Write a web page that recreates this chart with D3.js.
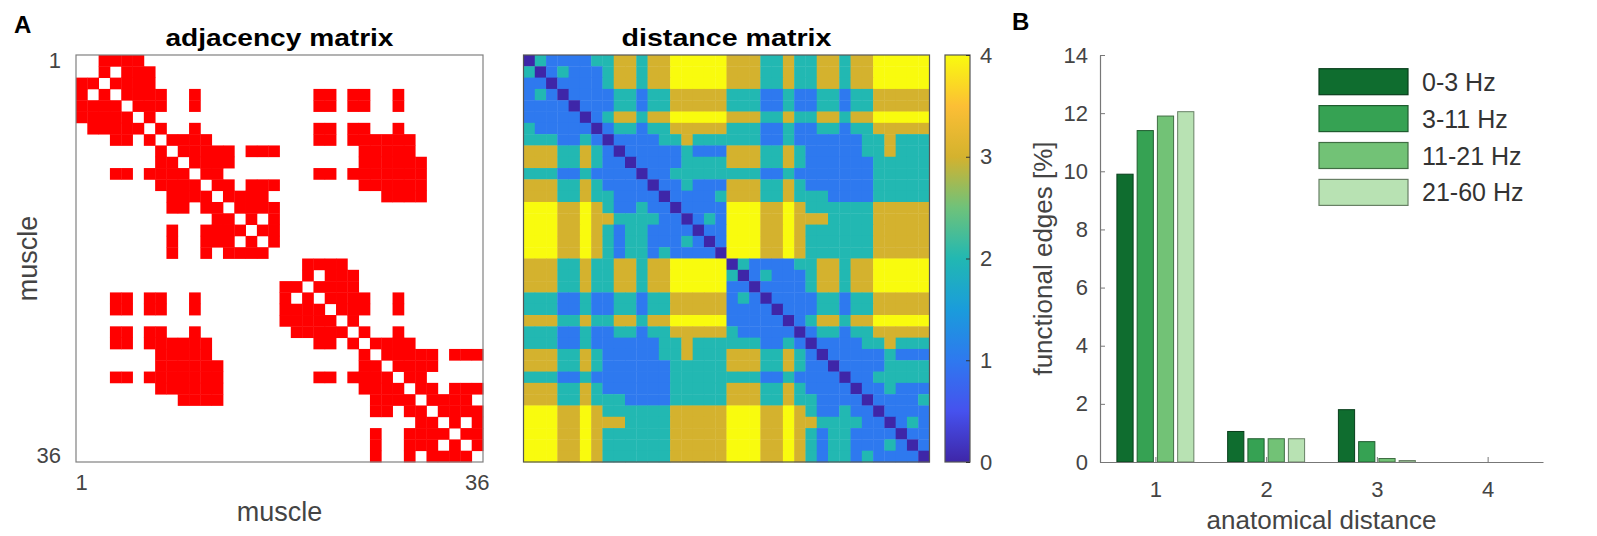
<!DOCTYPE html>
<html>
<head>
<meta charset="utf-8">
<script src="https://cdn.jsdelivr.net/npm/d3@7"></script>
<style>
  body { margin: 0; background: #fff; }
  text { font-family: "Liberation Sans", Arial, Helvetica, sans-serif; }
</style>
</head>
<body>
<svg class="chart" width="1597" height="536"></svg>
<script>
// anatomical adjacency, 36 muscles (1 = connected)
var adjacency = [
  "001111000000000000" + "000000000000000000",
  "001011100000000000" + "000000000000000000",
  "110111100000000000" + "000000000000000000",
  "101011110010000000" + "000110110010000000",
  "111101110010000000" + "000110110010000000",
  "111110100000000000" + "000000000000000000",
  "011111010010000000" + "000110110010000000",
  "000110101111000000" + "000110111111000000",
  "000000010111110111" + "000000011111000000",
  "000000011011110000" + "000000011111100000",
  "000110111101100000" + "000110111111100000",
  "000000011110110111" + "000000011111100000",
  "000000001111011110" + "000000000111100000",
  "000000001101101111" + "000000000000000000",
  "000000000000110101" + "000000000000000000",
  "000000001001111011" + "000000000000000000",
  "000000001001110101" + "000000000000000000",
  "000000001001011110" + "000000000000000000",
  "000000000000000000" + "001111000000000000",
  "000000000000000000" + "001011100000000000",
  "000000000000000000" + "110111100000000000",
  "000110110010000000" + "101011110010000000",
  "000110110010000000" + "111101110010000000",
  "000000000000000000" + "111110100000000000",
  "000110110010000000" + "011111010010000000",
  "000110111111000000" + "000110101111000000",
  "000000011111000000" + "000000010111110111",
  "000000011111100000" + "000000011011110000",
  "000110111111100000" + "000110111101100000",
  "000000011111100000" + "000000011110110111",
  "000000000111100000" + "000000001111011110",
  "000000000000000000" + "000000001101101111",
  "000000000000000000" + "000000000000110101",
  "000000000000000000" + "000000001001111011",
  "000000000000000000" + "000000001001110101",
  "000000000000000000" + "000000001001011110"
];

// anatomical distance between muscles (0-4)
var distance = [
  "021111223323344444333223223323344444",
  "201211123323344444333223223323344444",
  "110111123323344444333223223323344444",
  "121011112212233333222112112212233333",
  "111101112212233333222112112212233333",
  "111110123323344444333223223323344444",
  "211111012212233333222112112212233333",
  "222112101111223222222112111111223222",
  "333223210111112111333223211111223222",
  "333223211011112222333223211111122222",
  "222112111101122222222112111111122222",
  "333223211110112111333223211111122222",
  "333223221111011112333223222111122222",
  "444334321121101111444334322222233333",
  "444334332222110121444334333222233333",
  "444334321221111011444334322222233333",
  "444334321221112101444334322222233333",
  "444334321221211110444334322222233333",
  "333223223323344444021111223323344444",
  "333223223323344444201211123323344444",
  "333223223323344444110111123323344444",
  "222112112212233333121011112212233333",
  "222112112212233333111101112212233333",
  "333223223323344444111110123323344444",
  "222112112212233333211111012212233333",
  "222112111111223222222112101111223222",
  "333223211111223222333223210111112111",
  "333223211111122222333223211011112222",
  "222112111111122222222112111101122222",
  "333223211111122222333223211110112111",
  "333223222111122222333223221111011112",
  "444334322222233333444334321121101111",
  "444334333222233333444334332222110121",
  "444334322222233333444334321221111011",
  "444334322222233333444334321221112101",
  "444334322222233333444334321221211110"
];

var muscleTicks = [1, 36];
var colorTicks = [0, 1, 2, 3, 4];

// panel B
var anatDistance = [1, 2, 3, 4];
var bandNames = ["0-3 Hz", "3-11 Hz", "11-21 Hz", "21-60 Hz"];
var hz0_3   = [9.9, 1.05, 1.8, 0];
var hz3_11  = [11.4, 0.8, 0.7, 0];
var hz11_21 = [11.9, 0.8, 0.12, 0];
var hz21_60 = [12.05, 0.8, 0.05, 0];
var edgeTicks = [0, 2, 4, 6, 8, 10, 12, 14];

var bandColors = ["#0f6d2f", "#36a253", "#72c276", "#b8e2b3"];
var parula = ["#3e26a8", "#4652ee", "#2e79ef", "#1a9cdb", "#22b8b2", "#6fc27a", "#d4b22e", "#fcbf35", "#f9fb0e"];

function show() {
    'use strict';
    var svg = d3.select(".chart");
    var n = adjacency.length;
    var idx = d3.range(n);
    var inkCol = "#444";
    var top = 55, size = 407;

    // ---------- adjacency ----------
    var ax = d3.scaleBand().domain(idx).range([76, 76 + size]);
    var ay = d3.scaleBand().domain(idx).range([top, top + size]);
    var adjCells = [];
    idx.forEach(function(i) { idx.forEach(function(j) { if (adjacency[i][j] === "1") adjCells.push([i, j]); }); });

    var gA = svg.append("g");
    gA.selectAll("rect.cell").data(adjCells).enter().append("rect")
        .attr("x", function(d) { return ax(d[1]); })
        .attr("y", function(d) { return ay(d[0]); })
        .attr("width", ax.bandwidth() + 0.4)
        .attr("height", ay.bandwidth() + 0.4)
        .attr("fill", "#ff0000");
    gA.append("rect").attr("x", 76).attr("y", top).attr("width", size).attr("height", size)
        .attr("fill", "none").attr("stroke", "#808080").attr("stroke-width", 1.2);

    var yAx = gA.append("g").attr("transform", "translate(76,0)")
        .call(d3.axisLeft(ay).tickValues(muscleTicks.map(function(t) { return t - 1; }))
            .tickFormat(function(d) { return d + 1; }).tickSize(0).tickPadding(15));
    var xAx = gA.append("g").attr("transform", "translate(0," + (top + size) + ")")
        .call(d3.axisBottom(ax).tickValues(muscleTicks.map(function(t) { return t - 1; }))
            .tickFormat(function(d) { return d + 1; }).tickSize(0).tickPadding(12));
    [yAx, xAx].forEach(function(g) {
        g.select(".domain").remove();
        g.selectAll("text").attr("font-size", 22).attr("fill", inkCol);
    });

    gA.append("text").attr("x", 76 + size / 2 - 114).attr("y", 46)
        .attr("font-size", 24).attr("font-weight", "bold")
        .attr("textLength", 228).attr("lengthAdjust", "spacingAndGlyphs").text("adjacency matrix");
    gA.append("text").attr("x", 76 + size / 2).attr("y", 521).attr("text-anchor", "middle")
        .attr("font-size", 27).attr("fill", inkCol).text("muscle");
    gA.append("text").attr("transform", "translate(37," + (top + size / 2) + ") rotate(-90)")
        .attr("text-anchor", "middle").attr("font-size", 27).attr("fill", inkCol).text("muscle");

    // ---------- distance ----------
    var color = d3.scaleLinear().domain(d3.range(0, 4.01, 0.5)).range(parula);
    var dx = d3.scaleBand().domain(idx).range([523.5, 523.5 + 406]);
    var dy = d3.scaleBand().domain(idx).range([top, top + size]);
    var distCells = [];
    idx.forEach(function(i) { idx.forEach(function(j) { distCells.push([i, j, +distance[i][j]]); }); });

    var gD = svg.append("g");
    gD.selectAll("rect.cell").data(distCells).enter().append("rect")
        .attr("x", function(d) { return dx(d[1]); })
        .attr("y", function(d) { return dy(d[0]); })
        .attr("width", dx.bandwidth() + 0.4)
        .attr("height", dy.bandwidth() + 0.4)
        .attr("fill", function(d) { return color(d[2]); });
    gD.append("rect").attr("x", 523.5).attr("y", top).attr("width", 406).attr("height", size)
        .attr("fill", "none").attr("stroke", "#555").attr("stroke-width", 1.2);
    gD.append("text").attr("x", 523.5 + 203 - 105).attr("y", 46)
        .attr("font-size", 24).attr("font-weight", "bold")
        .attr("textLength", 210).attr("lengthAdjust", "spacingAndGlyphs").text("distance matrix");

    // colorbar
    var cbY = d3.scaleLinear().domain([0, 4]).range([top + size, top]);
    var grad = svg.append("defs").append("linearGradient").attr("id", "cbar")
        .attr("x1", 0).attr("y1", 1).attr("x2", 0).attr("y2", 0);
    grad.selectAll("stop").data(d3.range(0, 4.001, 0.1)).enter().append("stop")
        .attr("offset", function(d) { return d / 4; })
        .attr("stop-color", function(d) { return color(d); });
    svg.append("rect").attr("x", 945).attr("y", top).attr("width", 25).attr("height", size)
        .attr("fill", "url(#cbar)").attr("stroke", "#555").attr("stroke-width", 1.2);
    var cAx = svg.append("g").attr("transform", "translate(970,0)")
        .call(d3.axisRight(cbY).tickValues(colorTicks).tickFormat(d3.format("d"))
            .tickSizeInner(-4).tickSizeOuter(0).tickPadding(10));
    cAx.select(".domain").remove();
    cAx.selectAll("line").attr("stroke", "#333");
    cAx.selectAll("text").attr("font-size", 22).attr("fill", inkCol);

    // ---------- bars ----------
    var series = [hz0_3, hz3_11, hz11_21, hz21_60];
    var bx = d3.scaleLinear().domain([0.5, 4.5]).range([1100, 1543]);
    var by = d3.scaleLinear().domain([0, 14]).range([top + size, top]);
    var bx1 = d3.scaleBand().domain(d3.range(series.length)).range([-40.5, 40.5])
        .paddingInner(0.2).paddingOuter(0.1);

    var gB = svg.append("g");
    series.forEach(function(vals, s) {
        gB.selectAll("rect.s" + s).data(vals).enter().append("rect")
            .attr("x", function(d, i) { return bx(anatDistance[i]) + bx1(s); })
            .attr("y", function(d) { return by(d); })
            .attr("width", bx1.bandwidth())
            .attr("height", function(d) { return by(0) - by(d); })
            .attr("fill", bandColors[s])
            .attr("stroke", d3.color(bandColors[s]).darker(1.6))
            .attr("stroke-width", 1);
    });

    var byAx = gB.append("g").attr("transform", "translate(1100,0)")
        .call(d3.axisLeft(by).tickValues(edgeTicks).tickSizeInner(-5).tickSizeOuter(0).tickPadding(12));
    var bxAx = gB.append("g").attr("transform", "translate(0," + (top + size) + ")")
        .call(d3.axisBottom(bx).tickValues(anatDistance).tickFormat(d3.format("d"))
            .tickSizeInner(-5).tickSizeOuter(0).tickPadding(19));
    [byAx, bxAx].forEach(function(g) {
        g.select(".domain").attr("stroke", "#777").attr("stroke-width", 1.2);
        g.selectAll("line").attr("stroke", "#777");
        g.selectAll("text").attr("font-size", 22).attr("fill", inkCol);
    });

    gB.append("text").attr("x", 1321.5).attr("y", 529).attr("text-anchor", "middle")
        .attr("font-size", 26).attr("fill", inkCol).text("anatomical distance");
    gB.append("text").attr("transform", "translate(1052," + (top + size / 2) + ") rotate(-90)")
        .attr("text-anchor", "middle").attr("font-size", 26).attr("fill", inkCol).text("functional edges [%]");

    // legend
    var leg = gB.selectAll("g.leg").data(bandNames).enter().append("g")
        .attr("transform", function(d, i) { return "translate(1319," + (81.7 + i * 36.9) + ")"; });
    leg.append("rect").attr("x", 0).attr("y", -13).attr("width", 89).attr("height", 26)
        .attr("fill", function(d, i) { return bandColors[i]; })
        .attr("stroke", function(d, i) { return d3.color(bandColors[i]).darker(1.6); })
        .attr("stroke-width", 1.2);
    leg.append("text").attr("x", 103).attr("y", 0).attr("dy", "0.36em")
        .attr("font-size", 25).attr("fill", "#333").text(function(d) { return d; });

    // panel letters
    svg.append("text").attr("x", 14).attr("y", 33).attr("font-size", 24).attr("font-weight", "bold").text("A");
    svg.append("text").attr("x", 1012).attr("y", 30).attr("font-size", 24).attr("font-weight", "bold").text("B");
}
show();
</script>
</body>
</html>
